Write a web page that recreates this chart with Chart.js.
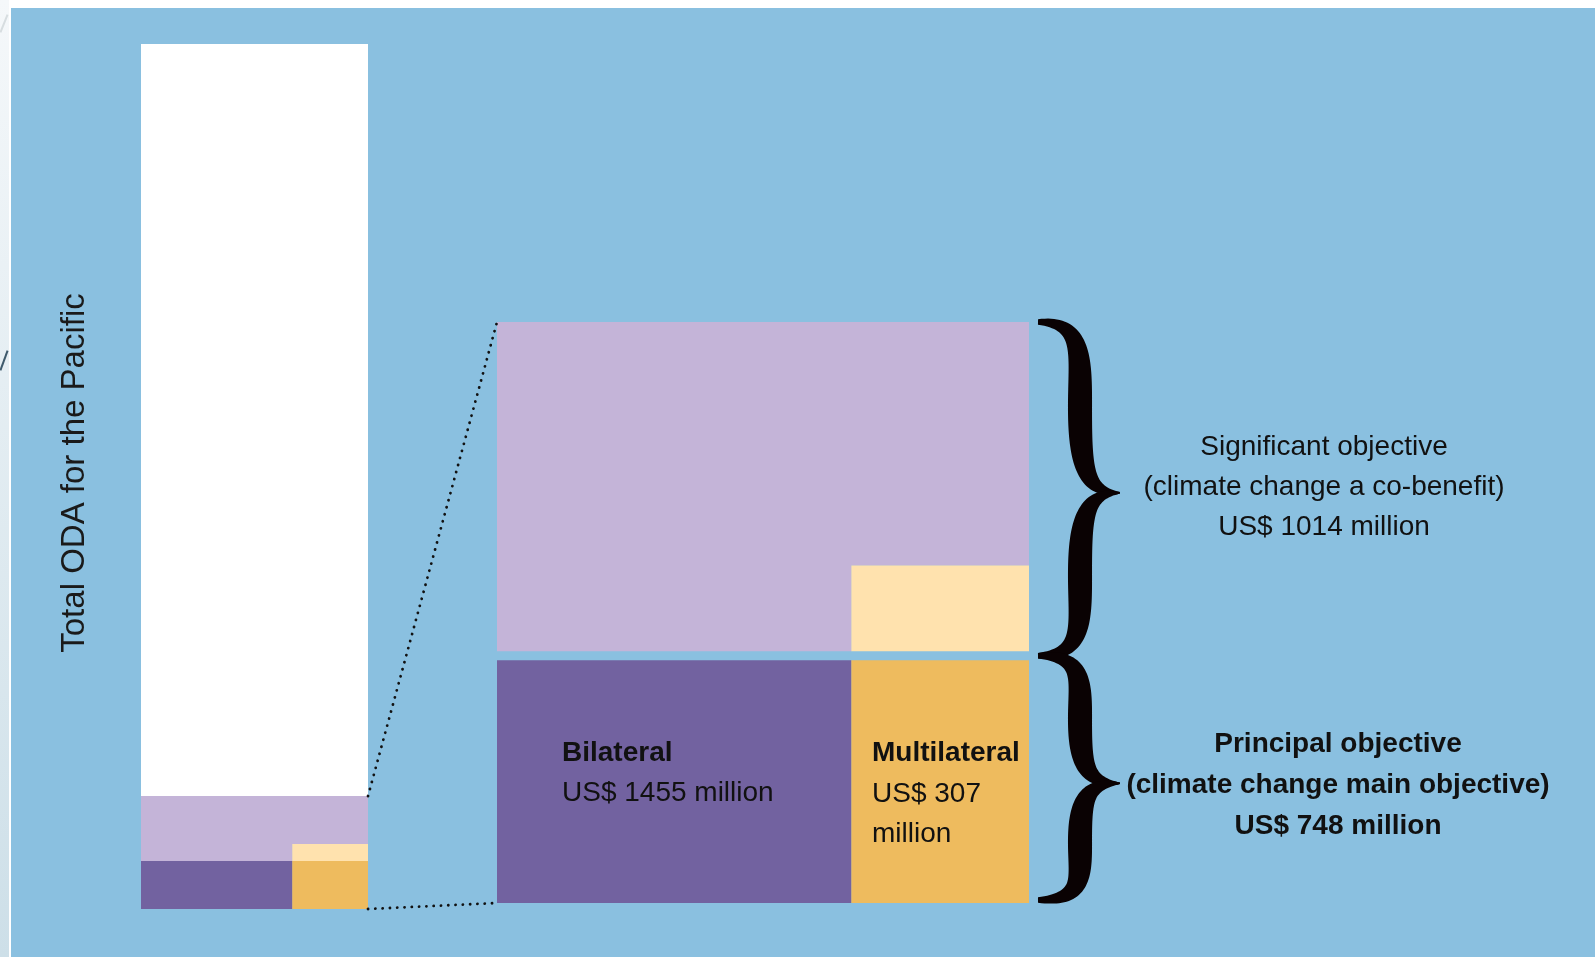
<!DOCTYPE html>
<html>
<head>
<meta charset="utf-8">
<title>Climate-related ODA for the Pacific</title>
<script src="https://cdn.jsdelivr.net/npm/chart.js@4.4.1/dist/chart.umd.min.js"></script>
<style>
  html, body { margin: 0; padding: 0; background: #fff; overflow: hidden; }
  #stage { position: relative; width: 1595px; height: 957px; }
  #strip { position: absolute; left: 0; top: 0; width: 9px; height: 957px; background: linear-gradient(#f5f8fa, #cddfe8); }
  .slash { position: absolute; width: 2px; }
  #panel { position: absolute; left: 11px; top: 8px; right: 0; bottom: 0; background: #8AC0E0; }
  canvas { position: absolute; left: 0; top: 0; }
</style>
</head>
<body>
<div id="stage">
  <div id="strip"></div>
  <div class="slash" style="left:3px; top:14px; height:19px; background:#d7dde0; transform:rotate(22deg);"></div>
  <div class="slash" style="left:3px; top:350px; height:21px; background:#3f5a6c; transform:rotate(20deg);"></div>
  <div id="panel"></div>
  <canvas id="odaChart" width="1595" height="957"></canvas>
</div>
<script>
// Valores em US$ milhões
const objectives = ['Principal objective', 'Significant objective'];
const objectiveNotes = ['(climate change main objective)', '(climate change a co-benefit)'];
const objectiveValues = [748, 1014];
const channels = ['Bilateral', 'Multilateral'];
const channelValues = [1455, 307];
const principalByChannel = [498, 250];     // divisão do bloco principal (estimada pelas larguras)
const multilateralSignificant = [265];     // altura do bloco claro (estimada)
const totalODA = [13500];                  // altura total da barra (estimada)
const axisTitle = 'Total ODA for the Pacific';

// Cores
const WHITE = '#FFFFFF';
const LAVENDER = '#C4B4D8';
const PURPLE = '#7262A0';
const ORANGE = '#EEBB5E';
const PEACH = '#FFE2AE';
const INK = '#111111';

// Posições (pixels) das duas colunas, das chavetas e dos textos
const W = 1595, H = 957;
const BAR = { left: 141, right: 368, top: 44, bottom: 909 };
const ZOOM = { left: 497, right: 1029, top: 322, bottom: 903, gap: 9 };
const BRACE = { end: 1038, stem: 1080, tip: 1120, width: 24 };
const TEXT = { sigX: 1324, prinX: 1338, bilatX: 562, multiX: 872, titleX: 75, titleY: 473 };

const climateTotal = objectiveValues[0] + objectiveValues[1];
const multiShare = principalByChannel[1] / objectiveValues[0];

// Escalas: o eixo 'y' serve a barra total, o eixo 'yz' serve a ampliação
const kBar = (BAR.bottom - BAR.top) / totalODA[0];
const kZoom = (ZOOM.bottom - ZOOM.top - ZOOM.gap) / climateTotal;
const gapUnits = ZOOM.gap / kZoom;

function rect(x0, x1, y0, y1) {
    return [{ x: x0, y: y0 }, { x: x1, y: y0 }, { x: x1, y: y1 }, { x: x0, y: y1 }];
}

function shape(points, color, axis) {
    return {
        data: points,
        yAxisID: axis,
        backgroundColor: color,
        borderColor: 'rgba(0,0,0,0)',
        borderWidth: 0,
        fill: 'shape',
        showLine: true,
        pointRadius: 0,
        pointHoverRadius: 0,
        tension: 0
    };
}

// Blocos de uma coluna (sem sobreposições: o lilás é um "L")
function columnBlocks(x0, x1, gap, axis) {
    const xm = x0 + (x1 - x0) * (1 - multiShare);
    const p = objectiveValues[0];
    const sigBottom = p + gap;
    const sigTop = climateTotal + gap;
    const peachTop = sigBottom + multilateralSignificant[0];
    return [
        shape([{ x: x0, y: sigBottom }, { x: xm, y: sigBottom }, { x: xm, y: peachTop },
               { x: x1, y: peachTop }, { x: x1, y: sigTop }, { x: x0, y: sigTop }], LAVENDER, axis),
        shape(rect(xm, x1, sigBottom, peachTop), PEACH, axis),
        shape(rect(x0, xm, 0, p), PURPLE, axis),
        shape(rect(xm, x1, 0, p), ORANGE, axis)
    ];
}

const datasets = [
    shape(rect(BAR.left, BAR.right, climateTotal, totalODA[0]), WHITE, 'y'),
    ...columnBlocks(BAR.left, BAR.right, 0, 'y'),
    ...columnBlocks(ZOOM.left, ZOOM.right, gapUnits, 'yz')
];

function bezier(p, t) {
    const u = 1 - t;
    const a = u * u * u, b = 3 * u * u * t, c = 3 * u * t * t, d = t * t * t;
    return [a * p[0][0] + b * p[1][0] + c * p[2][0] + d * p[3][0],
            a * p[0][1] + b * p[1][1] + c * p[2][1] + d * p[3][1]];
}

// Meia chaveta: da ponta da haste até ao bico
function halfBrace(ctx, yEnd, yTip) {
    const h = yTip - yEnd;
    const e = BRACE.end, s = BRACE.stem, t = BRACE.tip;
    const A = [[e, yEnd], [s + 4, yEnd], [s, yEnd + 0.2 * h], [s, yEnd + 0.5 * h]];
    const B = [[s, yEnd + 0.5 * h], [s, yEnd + 0.85 * h], [s + 6, yTip], [t, yTip]];
    const pts = [];
    for (let i = 0; i <= 40; i++) pts.push(bezier(A, i / 40));
    for (let i = 1; i <= 40; i++) pts.push(bezier(B, i / 40));
    const n = pts.length;
    const left = [], right = [];
    for (let i = 0; i < n; i++) {
        const a = pts[Math.max(0, i - 1)], b = pts[Math.min(n - 1, i + 1)];
        const dx = b[0] - a[0], dy = b[1] - a[1];
        const len = Math.hypot(dx, dy) || 1;
        const nx = -dy / len, ny = dx / len;
        const sp = i / (n - 1);
        const w = 1.5 + (BRACE.width - 1.5) * Math.pow(Math.sin(Math.PI * sp), 0.9) + 4 * Math.pow(1 - sp, 6);
        left.push([pts[i][0] + nx * w / 2, pts[i][1] + ny * w / 2]);
        right.push([pts[i][0] - nx * w / 2, pts[i][1] - ny * w / 2]);
    }
    ctx.beginPath();
    ctx.moveTo(left[0][0], left[0][1]);
    left.forEach(p => ctx.lineTo(p[0], p[1]));
    right.reverse().forEach(p => ctx.lineTo(p[0], p[1]));
    ctx.closePath();
    ctx.fill();
}

function textLines(ctx, lines, x, y, step, align) {
    ctx.textAlign = align;
    ctx.textBaseline = 'alphabetic';
    lines.forEach((l, i) => {
        ctx.font = (l.bold ? 'bold ' : '') + '28px "Liberation Sans", Arial, sans-serif';
        ctx.fillText(l.text, x, y + i * step);
    });
}

const annotationsPlugin = {
    id: 'annotations',
    afterDatasetsDraw(chart) {
        const ctx = chart.ctx;
        const x = chart.scales.x, y = chart.scales.y, yz = chart.scales.yz;
        const p = objectiveValues[0];

        const sigTop = yz.getPixelForValue(climateTotal + gapUnits);
        const sigBottom = yz.getPixelForValue(p + gapUnits);
        const prTop = yz.getPixelForValue(p);
        const prBottom = yz.getPixelForValue(0);

        ctx.save();
        // Linhas pontilhadas entre a barra e a ampliação
        ctx.strokeStyle = INK;
        ctx.lineWidth = 2.8;
        ctx.lineCap = 'round';
        ctx.setLineDash([0.1, 7.2]);
        ctx.beginPath();
        ctx.moveTo(x.getPixelForValue(BAR.right), y.getPixelForValue(climateTotal));
        ctx.lineTo(x.getPixelForValue(ZOOM.left), sigTop);
        ctx.moveTo(x.getPixelForValue(BAR.right), y.getPixelForValue(0));
        ctx.lineTo(x.getPixelForValue(ZOOM.left), prBottom);
        ctx.stroke();
        ctx.setLineDash([]);

        // Chavetas
        const junction = (sigBottom + prTop) / 2;
        const tip1 = (sigTop + junction) / 2 + 4;
        const tip2 = (junction + prBottom) / 2 + 4;
        ctx.fillStyle = '#0a0203';
        halfBrace(ctx, sigTop, tip1);
        halfBrace(ctx, junction, tip1);
        halfBrace(ctx, junction, tip2);
        halfBrace(ctx, prBottom - 3, tip2);

        // Textos
        ctx.fillStyle = INK;
        textLines(ctx, [
            { text: objectives[1] },
            { text: objectiveNotes[1] },
            { text: `US$ ${objectiveValues[1]} million` }
        ], TEXT.sigX, tip1 - 38, 40, 'center');
        textLines(ctx, [
            { text: objectives[0], bold: true },
            { text: objectiveNotes[0], bold: true },
            { text: `US$ ${objectiveValues[0]} million`, bold: true }
        ], TEXT.prinX, tip2 - 31, 41, 'center');
        textLines(ctx, [
            { text: channels[0], bold: true },
            { text: `US$ ${channelValues[0]} million` }
        ], TEXT.bilatX, prBottom - 142, 40, 'left');
        textLines(ctx, [
            { text: channels[1], bold: true },
            { text: `US$ ${channelValues[1]}` },
            { text: 'million' }
        ], TEXT.multiX, prBottom - 142, 40.5, 'left');

        // Título do eixo
        ctx.translate(TEXT.titleX, TEXT.titleY);
        ctx.rotate(-Math.PI / 2);
        ctx.font = '33px "Liberation Sans", Arial, sans-serif';
        ctx.textAlign = 'center';
        ctx.textBaseline = 'middle';
        ctx.fillStyle = '#1a1a1a';
        ctx.fillText(axisTitle, 0, 0);
        ctx.restore();
    }
};

new Chart(document.getElementById('odaChart'), {
    type: 'scatter',
    data: { datasets },
    options: {
        responsive: false,
        animation: false,
        events: [],
        layout: { padding: 0 },
        plugins: {
            legend: { display: false },
            tooltip: { enabled: false }
        },
        scales: {
            x: { type: 'linear', min: 0, max: W, display: false },
            y: {
                type: 'linear', display: false,
                min: -(H - BAR.bottom) / kBar,
                max: totalODA[0] + BAR.top / kBar
            },
            yz: {
                type: 'linear', position: 'right', display: false,
                min: -(H - ZOOM.bottom) / kZoom,
                max: climateTotal + gapUnits + ZOOM.top / kZoom
            }
        }
    },
    plugins: [annotationsPlugin]
});
</script>
</body>
</html>
